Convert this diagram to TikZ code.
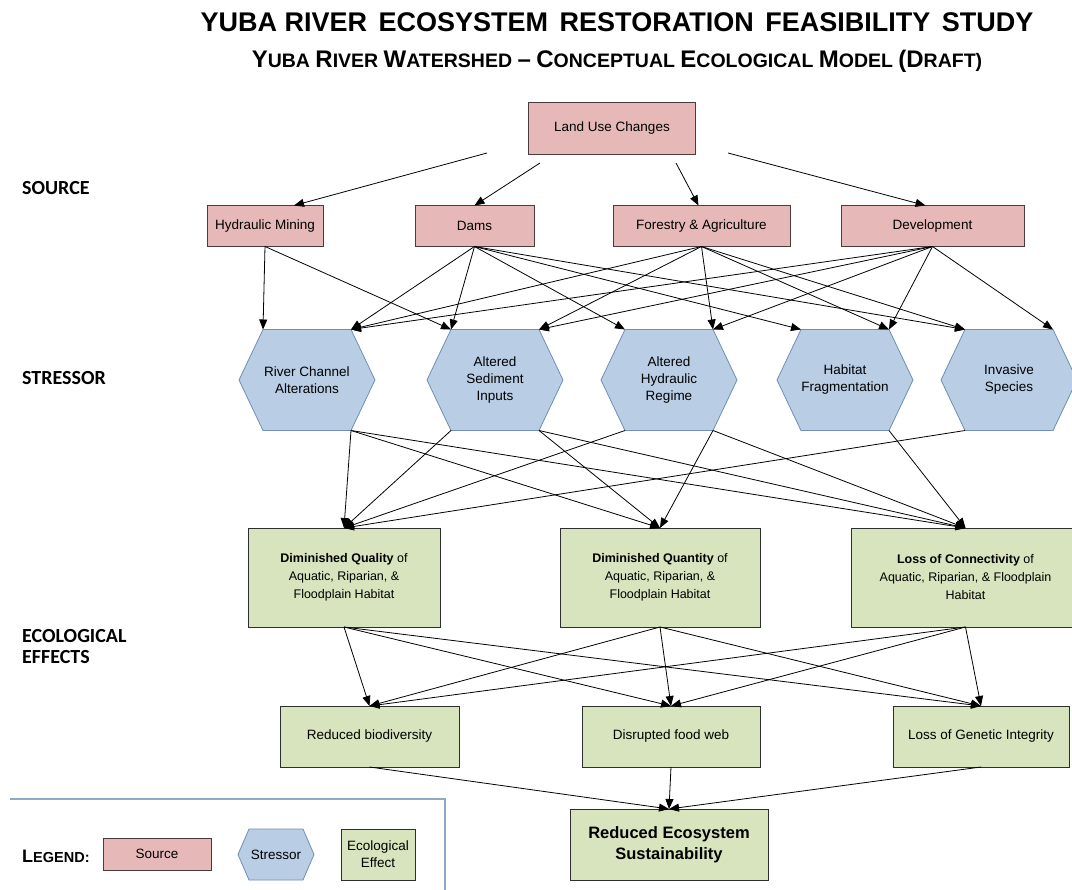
\documentclass[tikz,border=0pt]{standalone}
\usepackage{fontspec}
\setmainfont{Liberation Sans}
\newfontfamily\lblfont{Carlito}
\usetikzlibrary{arrows.meta,calc}

\definecolor{srcfill}{HTML}{E6B9B8}
\definecolor{srcdraw}{HTML}{4A3C3C}
\definecolor{hexfill}{HTML}{B9CDE5}
\definecolor{hexdraw}{HTML}{6F8FB5}
\definecolor{efffill}{HTML}{D7E4BD}
\definecolor{effdraw}{HTML}{2E2E2E}
\definecolor{legline}{HTML}{8FAAC6}

\newcommand\fsz[1]{\fontsize{#1}{#1}\selectfont}
\newcommand\scbig[1]{{\fsz{24}#1}}
\newcommand\scsm[1]{{\fsz{19.5}#1}}

% name, x, y, outer half width, inner half width, half height, text
\newcommand\mkhex[7]{%
  \filldraw[hexshape] (#2-#4,#3) -- (#2-#5,#3-#6) -- (#2+#5,#3-#6) -- (#2+#4,#3)
     -- (#2+#5,#3+#6) -- (#2-#5,#3+#6) -- cycle;
  \node[hexcore, minimum width=2*#5 pt, minimum height=2*#6 pt] (#1) at (#2,#3) {#7};
}

\begin{document}
\begin{tikzpicture}[x=1pt,y=-1pt,
  srcbox/.style={draw=srcdraw, fill=srcfill, line width=0.8pt, inner sep=0pt, outer sep=0pt, align=center, font=\fsz{13.5}},
  hexshape/.style={draw=hexdraw, fill=hexfill, line width=0.8pt},
  hexcore/.style={inner sep=0pt, outer sep=0pt, align=center, font=\fontsize{13.5}{17}\selectfont},
  effbox/.style={draw=effdraw, fill=efffill, line width=0.8pt, inner sep=0pt, outer sep=0pt, align=center, font=\fontsize{12.5}{18}\selectfont},
  outbox/.style={draw=effdraw, fill=efffill, line width=0.8pt, inner sep=0pt, outer sep=0pt, align=center, font=\fsz{13.5}},
  arr/.style={-{Triangle[length=10pt,width=8pt]}, line width=0.8pt, black},
  sidelbl/.style={anchor=west, inner sep=0pt, align=left, font=\lblfont\bfseries\fontsize{20}{21}\selectfont}
]
\useasboundingbox (0,0) rectangle (1072,890);
\fill[white] (0,0) rectangle (1072,890);

% titles
\node[font=\bfseries\fsz{27}] (title) at (617,22)
  {YUBA RIVER\hspace{0.15em} ECOSYSTEM\hspace{0.15em} RESTORATION\hspace{0.15em} FEASIBILITY\hspace{0.15em} STUDY};
\node[font=\bfseries\fsz{19.5}] (subtitle) at (617,61)
  {\scbig{Y}\scsm{UBA} \scbig{R}\scsm{IVER} \scbig{W}\scsm{ATERSHED} \scbig{--} \scbig{C}\scsm{ONCEPTUAL} \scbig{E}\scsm{COLOGICAL} \scbig{M}\scsm{ODEL} \scbig{(D}\scsm{RAFT)}};

% side labels
\node[sidelbl] (lsource) at (22,188) {SOURCE};
\node[sidelbl] (lstress) at (22,378) {STRESSOR};
\node[sidelbl] (leffect) at (22,647) {ECOLOGICAL\\EFFECTS};

% sources
\node[srcbox, minimum width=167pt, minimum height=52pt] (luc) at (612,128) {Land Use Changes};
\node[srcbox, minimum width=116pt, minimum height=41pt] (hm) at (265,226) {Hydraulic Mining};
\node[srcbox, minimum width=119pt, minimum height=41pt] (dams) at (474.5,226) {Dams};
\node[srcbox, minimum width=177pt, minimum height=41pt] (fa) at (701.5,226) {Forestry \& Agriculture};
\node[srcbox, minimum width=183pt, minimum height=41pt] (dev) at (932.5,226) {Development};

% stressors
\mkhex{chan}{307}{380}{68}{44}{50.5}{River Channel\\Alterations}
\mkhex{sed}{495}{380}{68}{44}{50.5}{Altered\\Sediment\\Inputs}
\mkhex{hyd}{669}{380}{68}{44}{50.5}{Altered\\Hydraulic\\Regime}
\mkhex{frag}{845}{380}{68}{44}{50.5}{Habitat\\Fragmentation}
\mkhex{inv}{1009}{380}{68}{44}{50.5}{Invasive\\Species}

% ecological effects
\node[effbox, minimum width=192pt, minimum height=99pt] (dql) at (344,577.5)
  {\textbf{Diminished Quality} of\\Aquatic, Riparian, \&\\Floodplain Habitat};
\node[effbox, minimum width=200pt, minimum height=99pt] (dqn) at (660,577.5)
  {\textbf{Diminished Quantity} of\\Aquatic, Riparian, \&\\Floodplain Habitat};
\node[effbox, minimum width=229pt, minimum height=99pt] (lc) at (965.5,577.5)
  {\textbf{Loss of Connectivity} of\\Aquatic, Riparian, \& Floodplain\\Habitat};

\node[outbox, minimum width=179pt, minimum height=61pt] (rb) at (369.5,736.5) {Reduced biodiversity};
\node[outbox, minimum width=178pt, minimum height=61pt] (df) at (671,736.5) {Disrupted food web};
\node[outbox, minimum width=176pt, minimum height=61pt] (lg) at (981,736.5) {Loss of Genetic Integrity};

\node[outbox, minimum width=198pt, minimum height=71pt, font=\bfseries\fontsize{16.5}{21}\selectfont] (res) at (669,844.5)
  {Reduced Ecosystem\\Sustainability};

% land use arrows
\coordinate (l1) at (487,153);
\coordinate (l2) at (540,163);
\coordinate (l3) at (676,163);
\coordinate (l4) at (728,153);
\draw[arr] (l1) -- ($(hm.north)+(29,0)$);
\draw[arr] (l2) -- (dams.north);
\draw[arr] (l3) -- ($(fa.north)+(-3,0)$);
\draw[arr] (l4) -- ($(dev.north)+(-7,0)$);

% source -> stressor
\foreach \s/\t in {hm/chan.north west, hm/sed.north west,
  dams/chan.north east, dams/sed.north west, dams/hyd.north west, dams/frag.north west, dams/inv.north west,
  fa/chan.north east, fa/sed.north east, fa/hyd.north east, fa/frag.north east, fa/inv.north west,
  dev/chan.north east, dev/sed.north east, dev/hyd.north east, dev/frag.north east, dev/inv.north east}
  \draw[arr] (\s.south) -- (\t);

% stressor -> effect
\foreach \s/\t in {chan.south east/dql, chan.south east/dqn, chan.south east/lc,
  sed.south west/dql, sed.south east/dqn, sed.south east/lc,
  hyd.south west/dql, hyd.south east/dqn, hyd.south east/lc,
  frag.south east/lc, inv.south west/dql}
  \draw[arr] (\s) -- (\t.north);

% effect -> outcome
\foreach \s in {dql,dqn,lc}
  \foreach \t in {rb,df,lg}
    \draw[arr] (\s.south) -- (\t.north);

\foreach \s in {rb,df,lg}
  \draw[arr] (\s.south) -- (res.north);

% legend
\coordinate (lg1) at (10,799);
\coordinate (lg2) at (445,799);
\coordinate (lg3) at (445,895);
\draw[legline, line width=1.2pt] (lg1) -- (lg2) -- (lg3);
\node[anchor=west, inner sep=0pt, font=\bfseries] (legt) at (22,856) {{\fsz{18}L}{\fsz{14.5}EGEND:}};
\node[srcbox, minimum width=108pt, minimum height=32pt] (legsrc) at (157,854) {Source};
\mkhex{leghex}{276}{854.5}{38}{27}{25.5}{Stressor}
\node[outbox, minimum width=74pt, minimum height=51pt, font=\fontsize{13.5}{17}\selectfont] (legeff) at (378,854.5) {Ecological\\Effect};
\end{tikzpicture}
\end{document}
